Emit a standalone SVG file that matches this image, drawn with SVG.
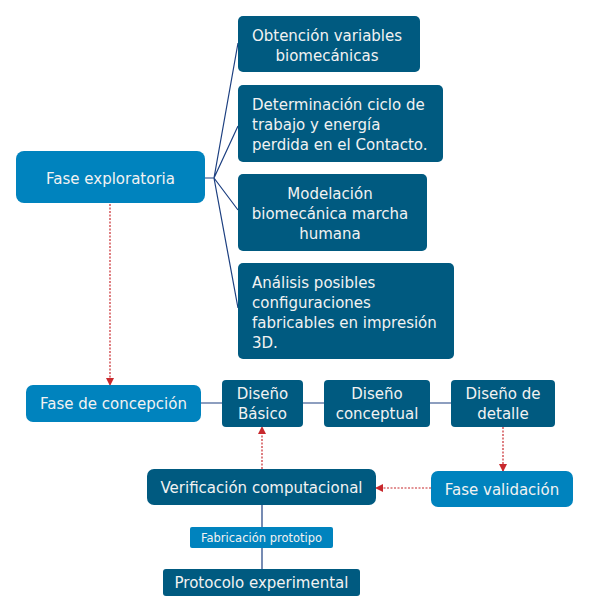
<svg xmlns="http://www.w3.org/2000/svg" width="590" height="612" viewBox="0 0 590 612">
<defs>
<marker id="ah" viewBox="0 0 8 8" refX="7" refY="4" markerWidth="8" markerHeight="8" markerUnits="userSpaceOnUse" orient="auto">
<path d="M0,0 L8,4 L0,8 Z" fill="#c8282d"/>
</marker>
</defs>
<style>
.dark{fill:#005a80}
.light{fill:#0083be}
text{font-family:"DejaVu Sans",Verdana,sans-serif;font-size:15px;fill:#f2f2f2}
.c{text-anchor:middle}
.sm{font-size:11.5px}
.ln{stroke:#1c3f80;stroke-width:1.2;fill:none}
.rd{stroke:#c8282d;stroke-width:1.2;fill:none;stroke-dasharray:2,1.5;marker-end:url(#ah)}
</style>
<rect width="590" height="612" fill="#ffffff"/>
<g id="connectors">
<path class="ln" d="M205,178 H214 M214,178 L238,43 M214,178 L238,126 M214,178 L238,210 M214,178 L238,308"/>
<path class="ln" d="M201,403 H222 M303,403 H324 M430,403 H451"/>
<path class="ln" d="M262,505 V569"/>
<path class="rd" d="M110,204 V385"/>
<path class="rd" d="M503,427 V471"/>
<path class="rd" d="M431,488 H376"/>
<path class="rd" d="M262,469 V427"/>
</g>
<g id="fase-exploratoria">
<rect class="light" x="16" y="151" width="189" height="52" rx="8"/>
<text class="c" x="110.5" y="183.5">Fase exploratoria</text>
</g>
<g id="obtencion">
<rect class="dark" x="238" y="16" width="182" height="56" rx="5"/>
<text class="c" x="327" y="40.5">Obtención variables</text>
<text class="c" x="327" y="60.5">biomecánicas</text>
</g>
<g id="determinacion">
<rect class="dark" x="238" y="85" width="205" height="77" rx="5"/>
<text x="252" y="109.5">Determinación ciclo de</text>
<text x="252" y="129.5">trabajo y energía</text>
<text x="252" y="149.5">perdida en el Contacto.</text>
</g>
<g id="modelacion">
<rect class="dark" x="238" y="174" width="189" height="77" rx="5"/>
<text class="c" x="330" y="198.5">Modelación</text>
<text class="c" x="330" y="218.5">biomecánica marcha</text>
<text class="c" x="330" y="238.5">humana</text>
</g>
<g id="analisis">
<rect class="dark" x="238" y="263" width="216" height="96" rx="5"/>
<text x="252" y="287.5">Análisis posibles</text>
<text x="252" y="307.5">configuraciones</text>
<text x="252" y="327.5">fabricables en impresión</text>
<text x="252" y="347.5">3D.</text>
</g>
<g id="fase-concepcion">
<rect class="light" x="26" y="385" width="175" height="37" rx="7"/>
<text class="c" x="113.5" y="409">Fase de concepción</text>
</g>
<g id="diseno-basico">
<rect class="dark" x="222" y="380" width="81" height="47" rx="4"/>
<text class="c" x="262.5" y="399">Diseño</text>
<text class="c" x="262.5" y="419">Básico</text>
</g>
<g id="diseno-conceptual">
<rect class="dark" x="324" y="380" width="106" height="47" rx="4"/>
<text class="c" x="377" y="399">Diseño</text>
<text class="c" x="377" y="419">conceptual</text>
</g>
<g id="diseno-detalle">
<rect class="dark" x="451" y="380" width="104" height="47" rx="4"/>
<text class="c" x="503" y="399">Diseño de</text>
<text class="c" x="503" y="419">detalle</text>
</g>
<g id="fase-validacion">
<rect class="light" x="431" y="471" width="142" height="36" rx="7"/>
<text class="c" x="502" y="494.5">Fase validación</text>
</g>
<g id="verificacion">
<rect class="dark" x="147" y="469" width="229" height="36" rx="7"/>
<text class="c" x="261.5" y="493">Verificación computacional</text>
</g>
<g id="fabricacion">
<rect class="light" x="190" y="527" width="143" height="21" rx="2"/>
<text class="c sm" x="261.5" y="541.5">Fabricación prototipo</text>
</g>
<g id="protocolo">
<rect class="dark" x="163" y="569" width="197" height="27" rx="3"/>
<text class="c" x="261.5" y="588">Protocolo experimental</text>
</g>
</svg>
